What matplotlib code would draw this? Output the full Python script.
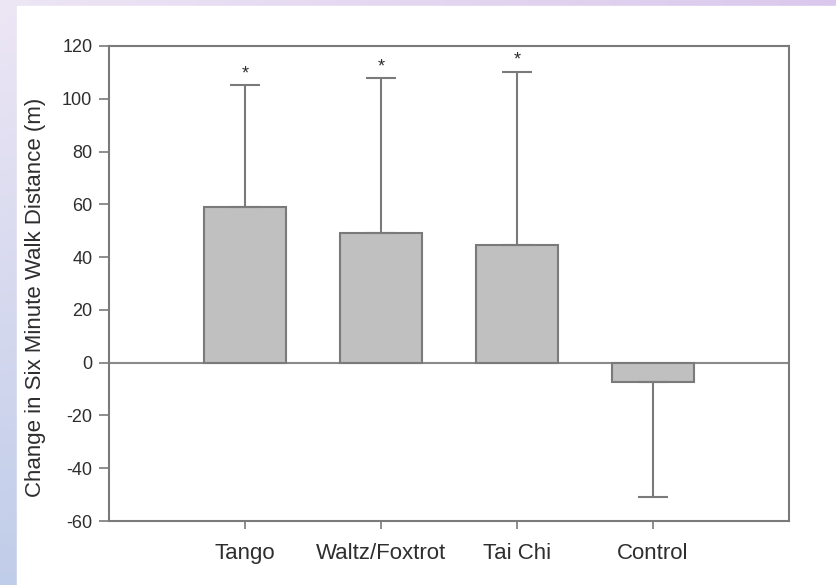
import numpy as np
import matplotlib
matplotlib.use("Agg")
import matplotlib.pyplot as plt

# data
groups = ["Tango", "Waltz/Foxtrot", "Tai Chi", "Control"]
change = [59.0, 49.0, 44.5, -7.4]
error = [46.2, 58.8, 65.8, 43.4]
significant = [True, True, True, False]
y_ticks = [-60, -40, -20, 0, 20, 40, 60, 80, 100, 120]

plt.rcParams["font.family"] = ["Liberation Sans", "DejaVu Sans"]
plt.rcParams["axes.unicode_minus"] = False
text_col = "#2e2e2e"
line_col = "#7a7a7a"

fig = plt.figure(figsize=(8.37, 5.85), dpi=100)

# lavender slide background with white panel
bg = fig.add_axes([0, 0, 1, 1], zorder=-10)
tl = np.array([237, 230, 245]) / 255
tr = np.array([218, 200, 236]) / 255
bl = np.array([192, 205, 233]) / 255
br = np.array([205, 200, 235]) / 255
u = np.linspace(0, 1, 200)[None, :, None]
v = np.linspace(0, 1, 200)[:, None, None]
img = (1 - v) * ((1 - u) * tl + u * tr) + v * ((1 - u) * bl + u * br)
bg.imshow(img, extent=[0, 1, 0, 1], aspect="auto", origin="upper")
bg.add_patch(plt.Rectangle((17 / 837, 0), 1, 1 - 6 / 585, color="white"))
bg.set_xlim(0, 1)
bg.set_ylim(0, 1)
bg.axis("off")

ax = fig.add_axes([109 / 837, 1 - 521 / 585, 680 / 837, 475 / 585])
ax.patch.set_alpha(0)

x = np.arange(1, len(groups) + 1)
lower = [e if c < 0 else 0 for c, e in zip(change, error)]
upper = [e if c >= 0 else 0 for c, e in zip(change, error)]

ax.bar(x, change, width=0.6, color="#c0c0c0", edgecolor=line_col, linewidth=1.5, zorder=2)
ax.errorbar(x, change, yerr=[lower, upper], fmt="none", ecolor=line_col,
            elinewidth=1.5, capsize=11, capthick=1.5, zorder=3)
ax.axhline(0, color="#8a8a8a", linewidth=1.5, zorder=1)

for xi, c, e, s in zip(x, change, error, significant):
    if s:
        ax.annotate("*", (xi, c + e), xytext=(0, 2), textcoords="offset points",
                    ha="center", va="bottom", fontsize=13, color=text_col)

ax.set_xlim(0, 5)
ax.set_ylim(-60, 120)
ax.set_yticks(y_ticks)
ax.set_xticks(x)
ax.set_xticklabels(groups)

for s in ax.spines.values():
    s.set_color(line_col)
    s.set_linewidth(1.5)

ax.tick_params(axis="y", direction="out", length=7, width=1.2, color=line_col,
               labelsize=13, labelcolor=text_col, pad=5)
ax.tick_params(axis="x", direction="out", length=6, width=1.2, color=line_col,
               labelsize=16, labelcolor=text_col, pad=10)

fig.text(36 / 837, 1 - 297 / 585, "Change in Six Minute Walk Distance (m)",
         rotation=90, ha="center", va="center", fontsize=16, color=text_col)

fig.savefig("out.png", dpi=100)
